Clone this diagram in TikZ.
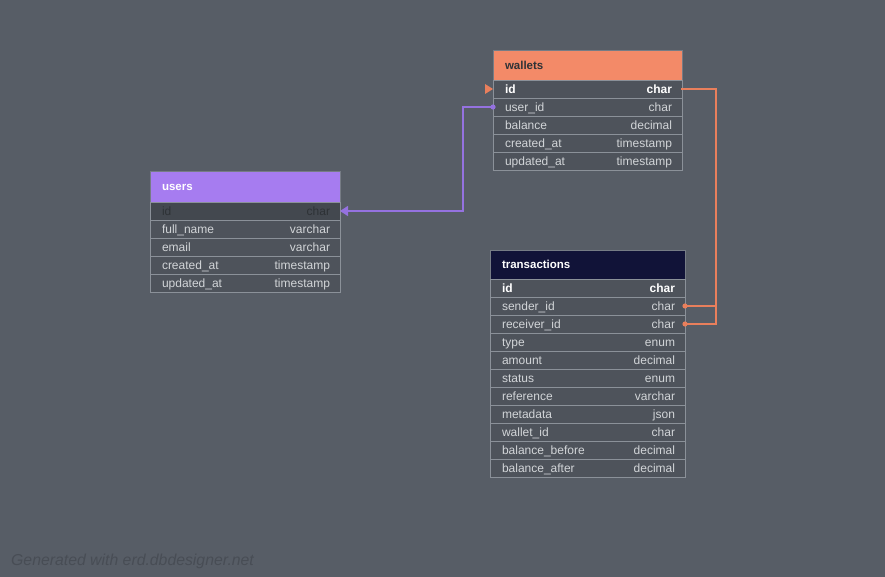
\documentclass[tikz,border=0pt]{standalone}
\usepackage{fontspec}
\setmainfont{Liberation Sans}
\usetikzlibrary{arrows.meta,calc}
\definecolor{bgc}{HTML}{575D66}
\definecolor{rowfill}{HTML}{4E535B}
\definecolor{rowtext}{HTML}{D2D5D8}
\definecolor{bordercol}{HTML}{8B9199}
\definecolor{pkfill}{HTML}{43484F}
\definecolor{pktext}{HTML}{2E3236}
\definecolor{usersc}{HTML}{A67CF0}
\definecolor{walletsc}{HTML}{F38A68}
\definecolor{transc}{HTML}{111338}
\definecolor{orangec}{HTML}{E97F5C}
\definecolor{purplec}{HTML}{9572E0}
\definecolor{footc}{HTML}{484D55}
\newcommand\ercell[3]{\makebox[#1][l]{\hspace*{12pt}#2\hfill#3\hspace*{10pt}}}
\newcommand\erhead[2]{\makebox[#1][l]{\hspace*{12pt}\bfseries #2}}
\begin{document}
\begin{tikzpicture}[x=1pt,y=-1pt,
  row/.style={draw=bordercol, line width=0.8pt, fill=rowfill, text=rowtext,
    anchor=north west, inner sep=0pt, outer sep=0pt, minimum height=18pt,
    text height=8.6pt, text depth=0pt, font=\fontsize{12}{14}\selectfont},
  pkrow/.style={row, text=white, font=\fontsize{12}{14}\selectfont\bfseries},
  hdr/.style={draw=bordercol!60!bgc, line width=0.5pt, anchor=north west, inner sep=0pt, outer sep=0pt,
    text height=8.3pt, text depth=0pt, font=\fontsize{11.5}{14}\selectfont},
  fk/.style={line width=1.3pt, line cap=rect}
]
\fill[bgc] (0,0) rectangle (885,577);
\useasboundingbox (0,0) rectangle (885,577);

% users
\node[hdr, fill=usersc, text=white, minimum width=190pt, minimum height=31pt] (u-h) at (150,171) {\erhead{190pt}{users}};
\node[row, fill=pkfill, text=pktext, minimum width=190pt] (u-id) at (u-h.south west) {\ercell{190pt}{id}{char}};
\node[row, minimum width=190pt] (u-fn) at (u-id.south west) {\ercell{190pt}{full\_name}{varchar}};
\node[row, minimum width=190pt] (u-em) at (u-fn.south west) {\ercell{190pt}{email}{varchar}};
\node[row, minimum width=190pt] (u-ca) at (u-em.south west) {\ercell{190pt}{created\_at}{timestamp}};
\node[row, minimum width=190pt] (u-ua) at (u-ca.south west) {\ercell{190pt}{updated\_at}{timestamp}};

% wallets
\node[hdr, fill=walletsc, text=pktext, minimum width=189pt, minimum height=30pt] (w-h) at (493,50) {\erhead{189pt}{wallets}};
\node[pkrow, minimum width=189pt] (w-id) at (w-h.south west) {\ercell{189pt}{id}{char}};
\node[row, minimum width=189pt] (w-uid) at (w-id.south west) {\ercell{189pt}{user\_id}{char}};
\node[row, minimum width=189pt] (w-bal) at (w-uid.south west) {\ercell{189pt}{balance}{decimal}};
\node[row, minimum width=189pt] (w-ca) at (w-bal.south west) {\ercell{189pt}{created\_at}{timestamp}};
\node[row, minimum width=189pt] (w-ua) at (w-ca.south west) {\ercell{189pt}{updated\_at}{timestamp}};

% transactions
\node[hdr, fill=transc, text=white, minimum width=195pt, minimum height=29pt] (t-h) at (490,250) {\erhead{195pt}{transactions}};
\node[pkrow, minimum width=195pt] (t-id) at (t-h.south west) {\ercell{195pt}{id}{char}};
\node[row, minimum width=195pt] (t-snd) at (t-id.south west) {\ercell{195pt}{sender\_id}{char}};
\node[row, minimum width=195pt] (t-rcv) at (t-snd.south west) {\ercell{195pt}{receiver\_id}{char}};
\node[row, minimum width=195pt] (t-typ) at (t-rcv.south west) {\ercell{195pt}{type}{enum}};
\node[row, minimum width=195pt] (t-amt) at (t-typ.south west) {\ercell{195pt}{amount}{decimal}};
\node[row, minimum width=195pt] (t-sta) at (t-amt.south west) {\ercell{195pt}{status}{enum}};
\node[row, minimum width=195pt] (t-ref) at (t-sta.south west) {\ercell{195pt}{reference}{varchar}};
\node[row, minimum width=195pt] (t-met) at (t-ref.south west) {\ercell{195pt}{metadata}{json}};
\node[row, minimum width=195pt] (t-wid) at (t-met.south west) {\ercell{195pt}{wallet\_id}{char}};
\node[row, minimum width=195pt] (t-bb) at (t-wid.south west) {\ercell{195pt}{balance\_before}{decimal}};
\node[row, minimum width=195pt] (t-ba) at (t-bb.south west) {\ercell{195pt}{balance\_after}{decimal}};

% connectors
\coordinate (jx) at ($(w-id.east)+(34,0)$);
\coordinate (px) at ($(w-uid.west)+(-30,0)$);
\draw[fk, orangec] (w-id.east) -- (jx) |- (t-rcv.east);
\draw[fk, orangec] (t-snd.east) -- (t-snd.east -| jx);
\fill[orangec] (t-snd.east) circle[radius=2.6pt];
\fill[orangec] (t-rcv.east) circle[radius=2.6pt];
\fill[orangec] (w-id.west) -- ++(-8,-5) -- ++(0,10) -- cycle;
\draw[fk, purplec, -{Triangle[length=8pt,width=10pt]}] (w-uid.west) -- (px) |- (u-id.east);
\fill[purplec] (w-uid.west) circle[radius=2.6pt];

% footer
\node[anchor=west, inner sep=0pt, text=footc, font=\fontsize{15.8}{18}\selectfont\itshape] (foot) at (11,561) {Generated with erd.dbdesigner.net};
\end{tikzpicture}
\end{document}
